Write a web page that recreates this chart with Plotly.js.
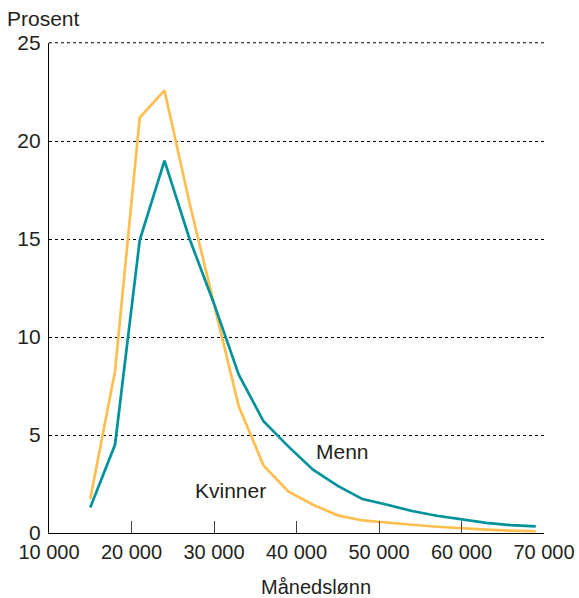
<!DOCTYPE html>
<html>
<head>
<meta charset="utf-8">
<script src="https://cdn.plot.ly/plotly-3.0.1.min.js"></script>
<style>
html,body{margin:0;padding:0;background:#fff;}
#chart{width:579px;height:598px;}
</style>
</head>
<body>
<div id="chart"></div>
<script>
const salary = [15000,18000,21000,24000,27000,30000,33000,36000,39000,42000,45000,48000,51000,54000,57000,60000,63000,66000,69000];
const menn = [1.3,4.5,14.95,19.0,15.05,11.7,8.08,5.7,4.42,3.23,2.4,1.73,1.44,1.12,0.88,0.69,0.52,0.4,0.34];
const kvinner = [1.73,8.25,21.2,22.58,16.9,11.6,6.46,3.45,2.12,1.44,0.9,0.64,0.52,0.42,0.32,0.23,0.17,0.12,0.09];
const xTicks = [10000,20000,30000,40000,50000,60000,70000];
const xTickText = ['10 000','20 000','30 000','40 000','50 000','60 000','70 000'];
const yTicks = [0,5,10,15,20,25];
const seriesNames = ['Menn','Kvinner'];

const font = 'Liberation Sans, Arial, Helvetica, sans-serif';
const textColor = '#231f20';

const traces = [
  {x: salary, y: kvinner, name: seriesNames[1], mode: 'lines', line: {color: '#ffbe50', width: 2.7}},
  {x: salary, y: menn, name: seriesNames[0], mode: 'lines', line: {color: '#00929a', width: 2.7}}
];

const layout = {
  width: 579, height: 598,
  margin: {l: 49, r: 35, t: 43, b: 65},
  paper_bgcolor: '#fff', plot_bgcolor: '#fff',
  showlegend: false,
  font: {family: font, size: 20, color: textColor},
  xaxis: {
    range: [10000, 70000],
    tickvals: xTicks, ticktext: xTickText,
    ticks: 'inside', ticklen: 12, tickwidth: 1, tickcolor: '#444',
    showgrid: false, zeroline: false,
    showline: true, linecolor: '#000', linewidth: 1.2,
    tickfont: {size: 20, color: textColor},
    ticklabelstandoff: 1,
    fixedrange: true
  },
  yaxis: {
    range: [0, 25],
    tickvals: yTicks,
    ticks: '', showgrid: true, gridcolor: '#000', gridwidth: 1, griddash: 'dot',
    zeroline: false,
    showline: true, linecolor: '#000', linewidth: 1.2,
    tickfont: {size: 21, color: textColor},
    ticklabelstandoff: 3,
    fixedrange: true
  },
  shapes: [
    {type: 'line', xref: 'paper', yref: 'paper', x0: 0, x1: 1, y0: 1.0005, y1: 1.0005, line: {color: '#000', width: 1, dash: 'dot'}, layer: 'below'}
  ],
  annotations: [
    {text: 'Menn', x: 45600, y: 4.15, xref: 'x', yref: 'y', showarrow: false, font: {size: 21, color: textColor}},
    {text: 'Kvinner', x: 31950, y: 2.16, xref: 'x', yref: 'y', showarrow: false, font: {size: 21, color: textColor}},
    {text: 'Prosent', x: -0.088, y: 1.05, xref: 'paper', yref: 'paper', xanchor: 'left', yanchor: 'middle', showarrow: false, font: {size: 21, color: textColor}},
    {text: 'Månedslønn', x: 0.539, y: -0.111, xref: 'paper', yref: 'paper', xanchor: 'center', yanchor: 'middle', showarrow: false, borderpad: 0, font: {size: 20, color: textColor}}
  ]
};

Plotly.newPlot('chart', traces, layout, {displayModeBar: false, staticPlot: true});
</script>
</body>
</html>
